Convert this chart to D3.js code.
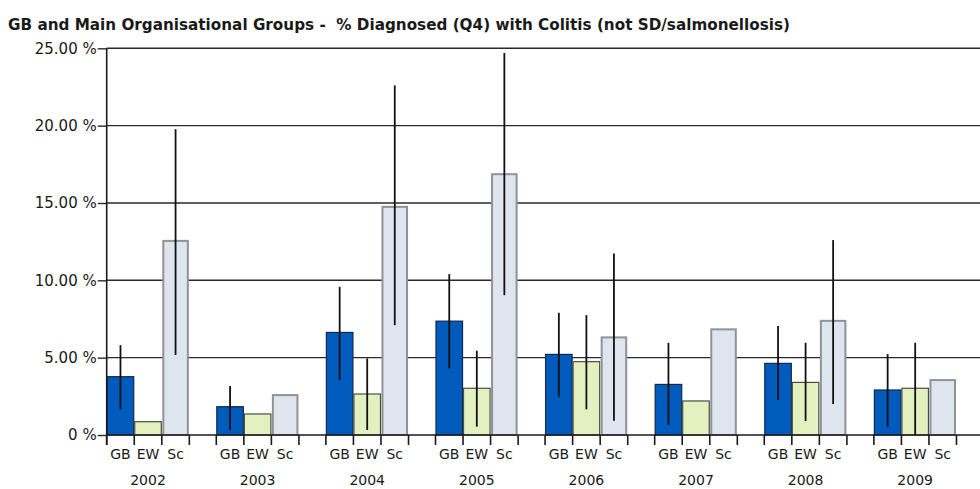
<!DOCTYPE html>
<html>
<head>
<meta charset="utf-8">
<script src="https://cdn.jsdelivr.net/npm/d3@7"></script>
<style>
  html, body { margin: 0; padding: 0; background: #fff; }
  svg { display: block; }
  text { font-family: "DejaVu Sans", Verdana, sans-serif; fill: #1a1a1a; }
  .title { white-space: pre; }
</style>
</head>
<body>
<svg id="chart" width="980" height="489"></svg>
<script>
// Years and organisational groups
const years = ["2002", "2003", "2004", "2005", "2006", "2007", "2008", "2009"];
const groups = ["GB", "EW", "Sc"];

// % diagnosed with colitis, per group and year
const gbValues = [3.77, 1.83, 6.63, 7.36, 5.21, 3.27, 4.63, 2.91];
const ewValues = [0.86, 1.36, 2.65, 3.02, 4.74, 2.20, 3.40, 3.02];
const scValues = [12.55, 2.58, 14.75, 16.86, 6.31, 6.83, 7.38, 3.55];

// Confidence interval bounds (null where no interval is shown)
const gbLow  = [1.66, 0.32, 3.55, 4.31, 2.47, 0.65, 2.26, 0.54];
const gbHigh = [5.81, 3.17, 9.58, 10.40, 7.90, 5.96, 7.04, 5.23];
const ewLow  = [null, null, 0.32, 0.54, 1.66, null, 0.90, 0.00];
const ewHigh = [null, null, 4.95, 5.45, 7.75, null, 5.96, 5.96];
const scLow  = [5.17, null, 7.10, 9.04, 0.92, null, 2.00, null];
const scHigh = [19.77, null, 22.60, 24.70, 11.74, null, 12.60, null];

// Y axis tick values and labels
const yTicks = [0, 5, 10, 15, 20, 25];
const yTickLabels = ["0 %", "5.00 %", "10.00 %", "15.00 %", "20.00 %", "25.00 %"];

const title = "GB and Main Organisational Groups -  % Diagnosed (Q4) with Colitis (not SD/salmonellosis)";

const seriesValues = { GB: gbValues, EW: ewValues, Sc: scValues };
const seriesLow = { GB: gbLow, EW: ewLow, Sc: scLow };
const seriesHigh = { GB: gbHigh, EW: ewHigh, Sc: scHigh };

const fills = { GB: "#005bbd", EW: "#e3f1c1", Sc: "#dfe5ef" };
const strokes = { GB: "#14284a", EW: "#4a4f40", Sc: "#8f9296" };
const strokeW = { GB: 1.2, EW: 1.2, Sc: 2 };

const svg = d3.select("#chart");

const plotLeft = 106.7, plotRight = 980, plotTop = 48.3, plotBottom = 435;

const x0 = d3.scaleBand().domain(years).range([plotLeft, 956.5])
  .paddingInner(0.246).paddingOuter(0);
const x1 = d3.scaleBand().domain(groups).range([0, x0.bandwidth()]).padding(0);
const y = d3.scaleLinear().domain([0, 25]).range([plotBottom, plotTop]);

// Title
svg.append("text")
  .attr("class", "title")
  .attr("x", 8).attr("y", 30)
  .attr("font-size", 15).attr("font-weight", "bold")
  .attr("textLength", 782).attr("lengthAdjust", "spacingAndGlyphs")
  .text(title);

// Horizontal gridlines
svg.append("g").selectAll("line")
  .data(yTicks.filter(d => d > 0))
  .join("line")
  .attr("x1", plotLeft).attr("x2", plotRight)
  .attr("y1", d => y(d)).attr("y2", d => y(d))
  .attr("stroke", "#2a2a2a").attr("stroke-width", 1.4);

// Y axis
const yAxis = d3.axisLeft(y).tickValues(yTicks)
  .tickFormat((d, i) => yTickLabels[i]).tickSize(9).tickPadding(1);
const gy = svg.append("g").attr("transform", `translate(${plotLeft},0)`).call(yAxis);
gy.select(".domain").remove();
gy.selectAll(".tick line").attr("stroke", "#2a2a2a").attr("stroke-width", 1.4);
gy.selectAll(".tick text").attr("font-size", 15).attr("fill", "#1a1a1a")
  .attr("font-family", "DejaVu Sans, sans-serif");

// Bars
const rows = [];
years.forEach((yr, i) => {
  groups.forEach(g => {
    rows.push({ year: yr, group: g, value: seriesValues[g][i],
      low: seriesLow[g][i], high: seriesHigh[g][i] });
  });
});

svg.append("g").selectAll("rect")
  .data(rows)
  .join("rect")
  .attr("x", d => x0(d.year) + x1(d.group) + (d.group === "Sc" ? 1.5 : 0.5))
  .attr("width", d => x1.bandwidth() - (d.group === "Sc" ? 3 : 1))
  .attr("y", d => y(d.value))
  .attr("height", d => y(0) - y(d.value))
  .attr("fill", d => fills[d.group])
  .attr("stroke", d => strokes[d.group])
  .attr("stroke-width", d => strokeW[d.group]);

// Error bars
svg.append("g").selectAll("line")
  .data(rows.filter(d => d.low !== null))
  .join("line")
  .attr("x1", d => x0(d.year) + x1(d.group) + x1.bandwidth() / 2)
  .attr("x2", d => x0(d.year) + x1(d.group) + x1.bandwidth() / 2)
  .attr("y1", d => y(d.high)).attr("y2", d => y(d.low))
  .attr("stroke", "#111").attr("stroke-width", 1.8);

// Baseline and vertical axis line
svg.append("line")
  .attr("x1", plotLeft).attr("x2", plotRight)
  .attr("y1", y(0)).attr("y2", y(0))
  .attr("stroke", "#1a1a1a").attr("stroke-width", 1.6);
svg.append("line")
  .attr("x1", plotLeft).attr("x2", plotLeft)
  .attr("y1", plotTop).attr("y2", y(0) + 10)
  .attr("stroke", "#1a1a1a").attr("stroke-width", 1.6);

// Bottom ticks at bar boundaries
const tickXs = [];
years.forEach(yr => {
  groups.forEach(g => tickXs.push(x0(yr) + x1(g)));
  tickXs.push(x0(yr) + x0.bandwidth());
});
svg.append("g").selectAll("line")
  .data(tickXs)
  .join("line")
  .attr("x1", d => d).attr("x2", d => d)
  .attr("y1", y(0)).attr("y2", y(0) + 10)
  .attr("stroke", "#1a1a1a").attr("stroke-width", 1.6);

// Group labels
svg.append("g").selectAll("text")
  .data(rows)
  .join("text")
  .attr("x", d => x0(d.year) + x1(d.group) + x1.bandwidth() / 2)
  .attr("y", 459)
  .attr("text-anchor", "middle")
  .attr("font-size", 14)
  .text(d => d.group);

// Year labels
svg.append("g").selectAll("text")
  .data(years)
  .join("text")
  .attr("x", d => x0(d) + x0.bandwidth() / 2)
  .attr("y", 485)
  .attr("text-anchor", "middle")
  .attr("font-size", 14)
  .text(d => d);
</script>
</body>
</html>
